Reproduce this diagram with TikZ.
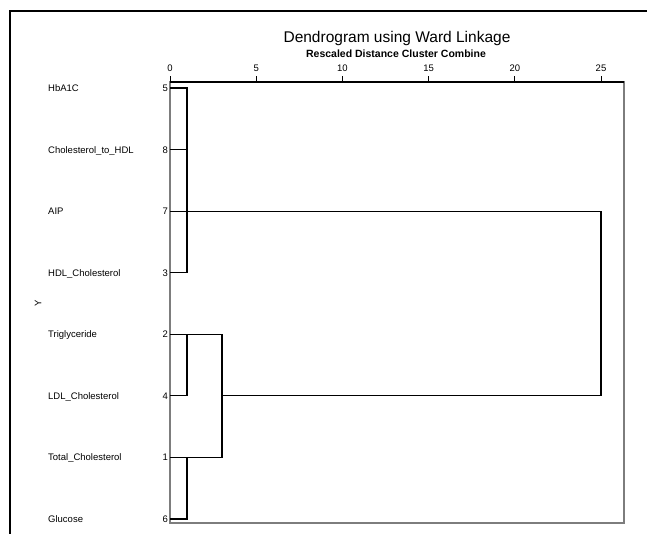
\documentclass[tikz,border=0pt]{standalone}
\usepackage{fontspec}
\setmainfont{Liberation Sans}
\definecolor{framegray}{RGB}{125,125,125}

\begin{document}
\begin{tikzpicture}[x=1pt,y=-1pt,every node/.style={inner sep=0pt},
    link/.style={draw=black,line width=1.1pt},
    plotframe/.style={draw=framegray,line width=1.6pt},
    outerframe/.style={draw=black,line width=1.4pt},
    leaflabel/.style={anchor=base west,font=\fontsize{9.5}{11}\selectfont},
    leafnum/.style={anchor=base east,font=\fontsize{9.5}{11}\selectfont},
    ticklabel/.style={anchor=base,font=\fontsize{9.5}{11}\selectfont},
    title/.style={anchor=base,font=\fontsize{15.5}{18}\selectfont},
    subtitle/.style={anchor=base,font=\bfseries\fontsize{10.5}{12}\selectfont}]
    \useasboundingbox (0,0) rectangle (647,534);
    \fill[white] (0,0) rectangle (647,534);
    \draw[outerframe] (10,540) -- (10,11) -- (650,11);

    \node[title] (title) at (397,43) {Dendrogram using Ward Linkage};
    \node[subtitle] (subtitle) at (396,58) {Rescaled Distance Cluster Combine};
    \node[rotate=90,font=\fontsize{9.5}{11}\selectfont] (ylab) at (38,303) {Y};

    \draw[plotframe] (170,82) rectangle (624,523);
    \draw[black,line width=1.1pt] (170,82) -- (624,82);
    \foreach \t in {0,5,...,25}{
      \coordinate (t\t) at ({170+17.24*\t},82);
      \node[ticklabel] (tl\t) at ({170+17.24*\t},72) {\t};
      \draw[black,line width=1pt] (t\t) -- ++(0,-6);
    }

    \foreach \lab/\num [count=\i] in {HbA1C/5,Cholesterol\_to\_HDL/8,AIP/7,
        HDL\_Cholesterol/3,Triglyceride/2,LDL\_Cholesterol/4,
        Total\_Cholesterol/1,Glucose/6}{
      \coordinate (p\i) at (170,{88+61.57*(\i-1)});
      \node[leaflabel] (lab\i) at (48,{91.5+61.57*(\i-1)}) {\lab};
      \node[leafnum] (n\i) at (168,{91.5+61.57*(\i-1)}) {\num};
    }

    \coordinate (xa) at (187,0);
    \coordinate (xb) at (222,0);
    \coordinate (xc) at (601,0);

    % first cluster
    \draw[link] (p1) -- (p1 -| xa) -- (p4 -| xa) -- (p4);
    \draw[link] (p2) -- (p2 -| xa);
    \draw[link] (p3) -- (p3 -| xc) -- (p6 -| xc) -- (p6 -| xb);
    % second cluster
    \draw[link] (p5) -- (p5 -| xb) -- (p7 -| xb) -- (p7);
    \draw[link] (p5 -| xa) -- (p6 -| xa) -- (p6);
    \draw[link] (p7 -| xa) -- (p8 -| xa) -- (p8);
\end{tikzpicture}
\end{document}
